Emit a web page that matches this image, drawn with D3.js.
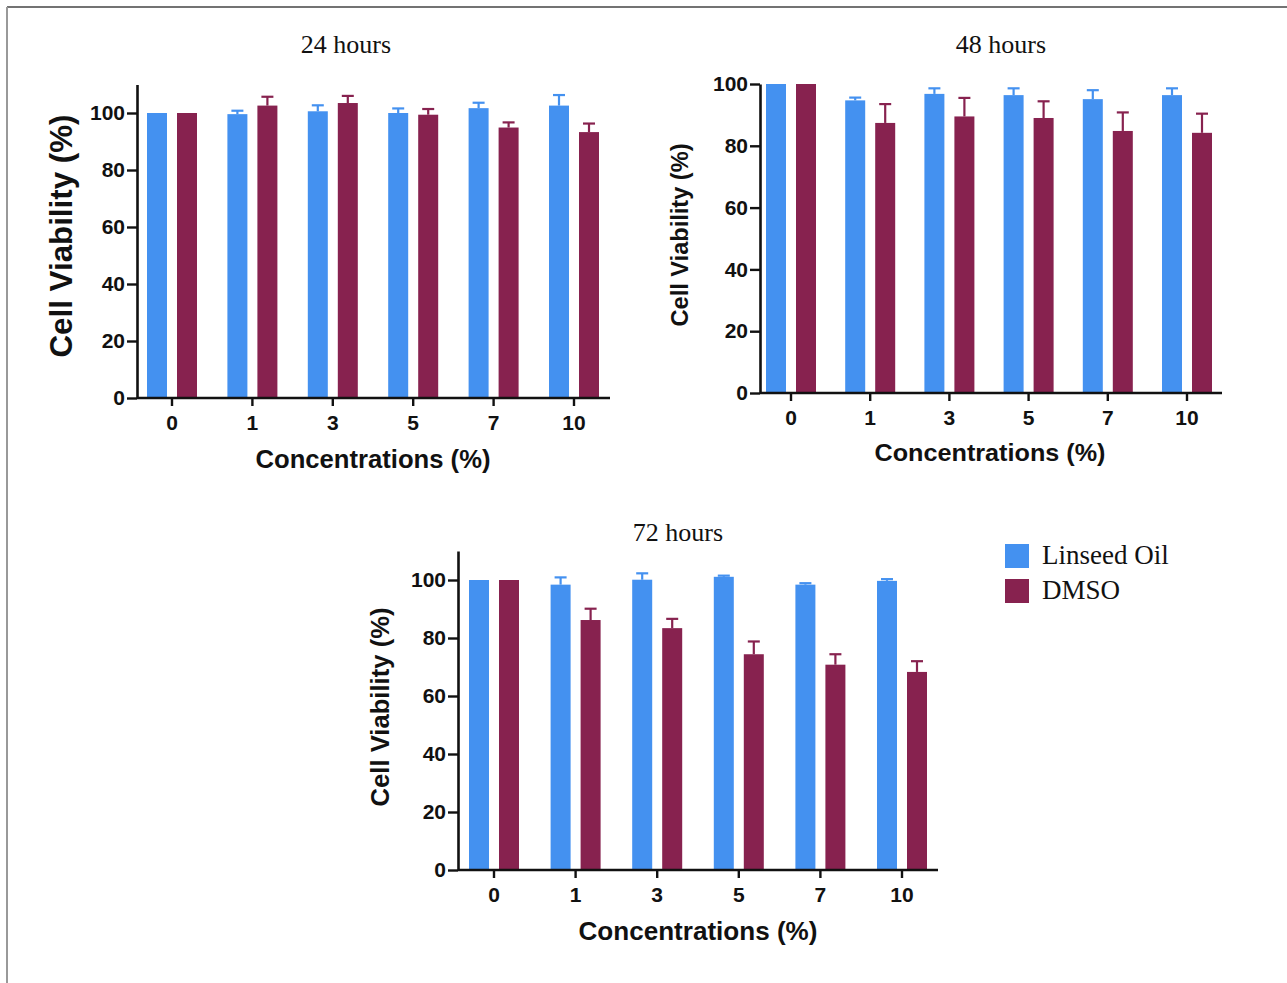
<!DOCTYPE html>
<html>
<head>
<meta charset="utf-8">
<script src="https://cdn.jsdelivr.net/npm/d3@7"></script>
<style>
  body { margin: 0; background: #fff; }
  svg { display: block; }
</style>
</head>
<body>
<svg width="1287" height="983"></svg>
<script>
// data (mean and upper error, %)
const concentrations = ['0', '1', '3', '5', '7', '10'];
const seriesNames = ['Linseed Oil', 'DMSO'];
const seriesColors = ['#4491F0', '#87224F'];
const yTickValues = [0, 20, 40, 60, 80, 100];

const linseed24 = [100, 99.6, 100.6, 100, 101.7, 102.6];
const linseed24Err = [0, 1.2, 2.1, 1.6, 1.9, 3.7];
const dmso24 = [100, 102.6, 103.5, 99.4, 94.9, 93.3];
const dmso24Err = [0, 3.1, 2.5, 2.0, 1.8, 3.0];

const linseed48 = [100, 94.7, 96.8, 96.4, 95.1, 96.4];
const linseed48Err = [0, 0.9, 1.8, 2.2, 2.9, 2.2];
const dmso48 = [100, 87.4, 89.5, 89.0, 84.8, 84.2];
const dmso48Err = [0, 6.1, 6.0, 5.4, 6.0, 6.2];

const linseed72 = [100, 98.4, 100.1, 101.1, 98.4, 99.7];
const linseed72Err = [0, 2.5, 2.2, 0.4, 0.5, 0.6];
const dmso72 = [100, 86.2, 83.4, 74.4, 70.8, 68.3];
const dmso72Err = [0, 3.9, 3.2, 4.4, 3.6, 3.7];

const svg = d3.select('svg');
const sans = 'Liberation Sans, Arial, sans-serif';
const serif = 'Liberation Serif, Times New Roman, serif';

// frame lines (top and left) of the original figure
svg.append('line').
  attr('x1', 7).attr('x2', 1287).attr('y1', 7).attr('y2', 7).
  attr('stroke', '#444').attr('stroke-width', 1.5);
svg.append('line').
  attr('x1', 7).attr('x2', 7).attr('y1', 7).attr('y2', 983).
  attr('stroke', '#999').attr('stroke-width', 2);

function drawPanel(p) {
  const g = svg.append('g');

  const x = d3.scaleBand().
    domain(concentrations).
    range([p.firstTick - p.step / 2, p.firstTick + p.step * 5.5]);

  const xSub = d3.scaleBand().
    domain(seriesNames).
    range([p.step / 2 - 25, p.step / 2 + 25]).
    paddingInner(1 / 3);

  const y = d3.scaleLinear().
    domain([0, p.yMax]).
    range([p.yZero, p.yZero - (p.yZero - p.y100) * p.yMax / 100]);

  const rows = concentrations.map((c, i) => ({
    c: c,
    vals: [
      { s: seriesNames[0], v: p.lin[i], e: p.linErr[i], col: seriesColors[0] },
      { s: seriesNames[1], v: p.dmso[i], e: p.dmsoErr[i], col: seriesColors[1] }
    ]
  }));

  // bars
  const grp = g.append('g').
    selectAll('g').
    data(rows).
    enter().append('g').
    attr('transform', d => `translate(${x(d.c)},0)`);

  grp.selectAll('rect').
    data(d => d.vals).
    enter().append('rect').
    attr('x', d => xSub(d.s)).
    attr('y', d => y(d.v)).
    attr('width', xSub.bandwidth()).
    attr('height', d => y(0) - y(d.v)).
    attr('fill', d => d.col);

  // error bars (upper only)
  const eb = grp.selectAll('g.err').
    data(d => d.vals.filter(v => v.e > 0)).
    enter().append('g').
    attr('class', 'err').
    attr('stroke', d => d.col).
    attr('stroke-width', 2.2);
  eb.append('line').
    attr('x1', d => xSub(d.s) + xSub.bandwidth() / 2).
    attr('x2', d => xSub(d.s) + xSub.bandwidth() / 2).
    attr('y1', d => y(d.v)).
    attr('y2', d => y(d.v + d.e));
  eb.append('line').
    attr('x1', d => xSub(d.s) + xSub.bandwidth() / 2 - 6).
    attr('x2', d => xSub(d.s) + xSub.bandwidth() / 2 + 6).
    attr('y1', d => y(d.v + d.e)).
    attr('y2', d => y(d.v + d.e));

  // y axis
  const yAxis = d3.axisLeft(y).
    tickValues(yTickValues).
    tickSize(10).
    tickSizeOuter(0).
    tickPadding(2);
  const ya = g.append('g').
    attr('transform', `translate(${p.axisLeft},0)`).
    call(yAxis);
  ya.select('.domain').attr('stroke-width', 2.6).attr('stroke', '#111');
  ya.selectAll('.tick line').attr('stroke-width', 2.4).attr('stroke', '#111');
  ya.selectAll('.tick text').
    attr('font-family', sans).attr('font-weight', 'bold').
    attr('font-size', p.tickFont).attr('fill', '#111');

  // x axis
  const xAxis = d3.axisBottom(x).
    tickSize(8).
    tickSizeOuter(0).
    tickPadding(p.xPad);
  const xa = g.append('g').
    attr('transform', `translate(0,${p.yZero})`).
    call(xAxis);
  xa.select('.domain').remove();
  xa.append('line').
    attr('x1', p.axisLeft).attr('x2', p.axisRight).
    attr('stroke', '#111').attr('stroke-width', 2.6);
  xa.selectAll('.tick line').attr('stroke-width', 2.4).attr('stroke', '#111');
  xa.selectAll('.tick text').
    attr('font-family', sans).attr('font-weight', 'bold').
    attr('font-size', p.tickFont).attr('fill', '#111');

  // titles
  g.append('text').
    text(p.title).
    attr('x', p.titleX).attr('y', p.titleY).
    attr('text-anchor', 'middle').
    attr('font-family', serif).attr('font-size', 26).attr('fill', '#111');

  g.append('text').
    text('Concentrations (%)').
    attr('x', p.xLabelX).attr('y', p.xLabelY).
    attr('text-anchor', 'middle').
    attr('font-family', sans).attr('font-weight', 'bold').
    attr('font-size', p.xLabelSize).
    attr('textLength', p.xLabelLen).attr('lengthAdjust', 'spacingAndGlyphs').
    attr('fill', '#111');

  g.append('text').
    text('Cell Viability (%)').
    attr('transform', `translate(${p.yLabelX},${p.yLabelY}) rotate(-90)`).
    attr('text-anchor', 'middle').
    attr('font-family', sans).attr('font-weight', 'bold').
    attr('font-size', p.yLabelSize).
    attr('textLength', p.yLabelLen).attr('lengthAdjust', 'spacingAndGlyphs').
    attr('fill', '#111');
}

drawPanel({
  title: '24 hours', titleX: 346, titleY: 53,
  lin: linseed24, linErr: linseed24Err, dmso: dmso24, dmsoErr: dmso24Err,
  firstTick: 172, step: 80.4, axisLeft: 137, axisRight: 610,
  yZero: 398, y100: 113, yMax: 110,
  tickFont: 21, xPad: 9,
  xLabelX: 373, xLabelY: 468, xLabelSize: 25, xLabelLen: 235,
  yLabelX: 72, yLabelY: 236, yLabelSize: 31, yLabelLen: 243
});

drawPanel({
  title: '48 hours', titleX: 1001, titleY: 53,
  lin: linseed48, linErr: linseed48Err, dmso: dmso48, dmsoErr: dmso48Err,
  firstTick: 791, step: 79.2, axisLeft: 760, axisRight: 1222,
  yZero: 393, y100: 84, yMax: 100,
  tickFont: 21, xPad: 9,
  xLabelX: 990, xLabelY: 461, xLabelSize: 24, xLabelLen: 231,
  yLabelX: 688, yLabelY: 235, yLabelSize: 23, yLabelLen: 183
});

drawPanel({
  title: '72 hours', titleX: 678, titleY: 541,
  lin: linseed72, linErr: linseed72Err, dmso: dmso72, dmsoErr: dmso72Err,
  firstTick: 494, step: 81.6, axisLeft: 458, axisRight: 938,
  yZero: 870, y100: 580, yMax: 110,
  tickFont: 21, xPad: 9,
  xLabelX: 698, xLabelY: 940, xLabelSize: 25, xLabelLen: 239,
  yLabelX: 389, yLabelY: 707, yLabelSize: 25, yLabelLen: 199
});

// legend
const legend = svg.append('g').attr('transform', 'translate(1005,544)');
const li = legend.selectAll('g').
  data(seriesNames).
  enter().append('g').
  attr('transform', (d, i) => `translate(0,${i * 35})`);
li.append('rect').
  attr('width', 24).attr('height', 24).
  attr('fill', (d, i) => seriesColors[i]);
li.append('text').
  text(d => d).
  attr('x', 37).attr('y', 20).
  attr('font-family', serif).attr('font-size', 27).attr('fill', '#111');
</script>
</body>
</html>
